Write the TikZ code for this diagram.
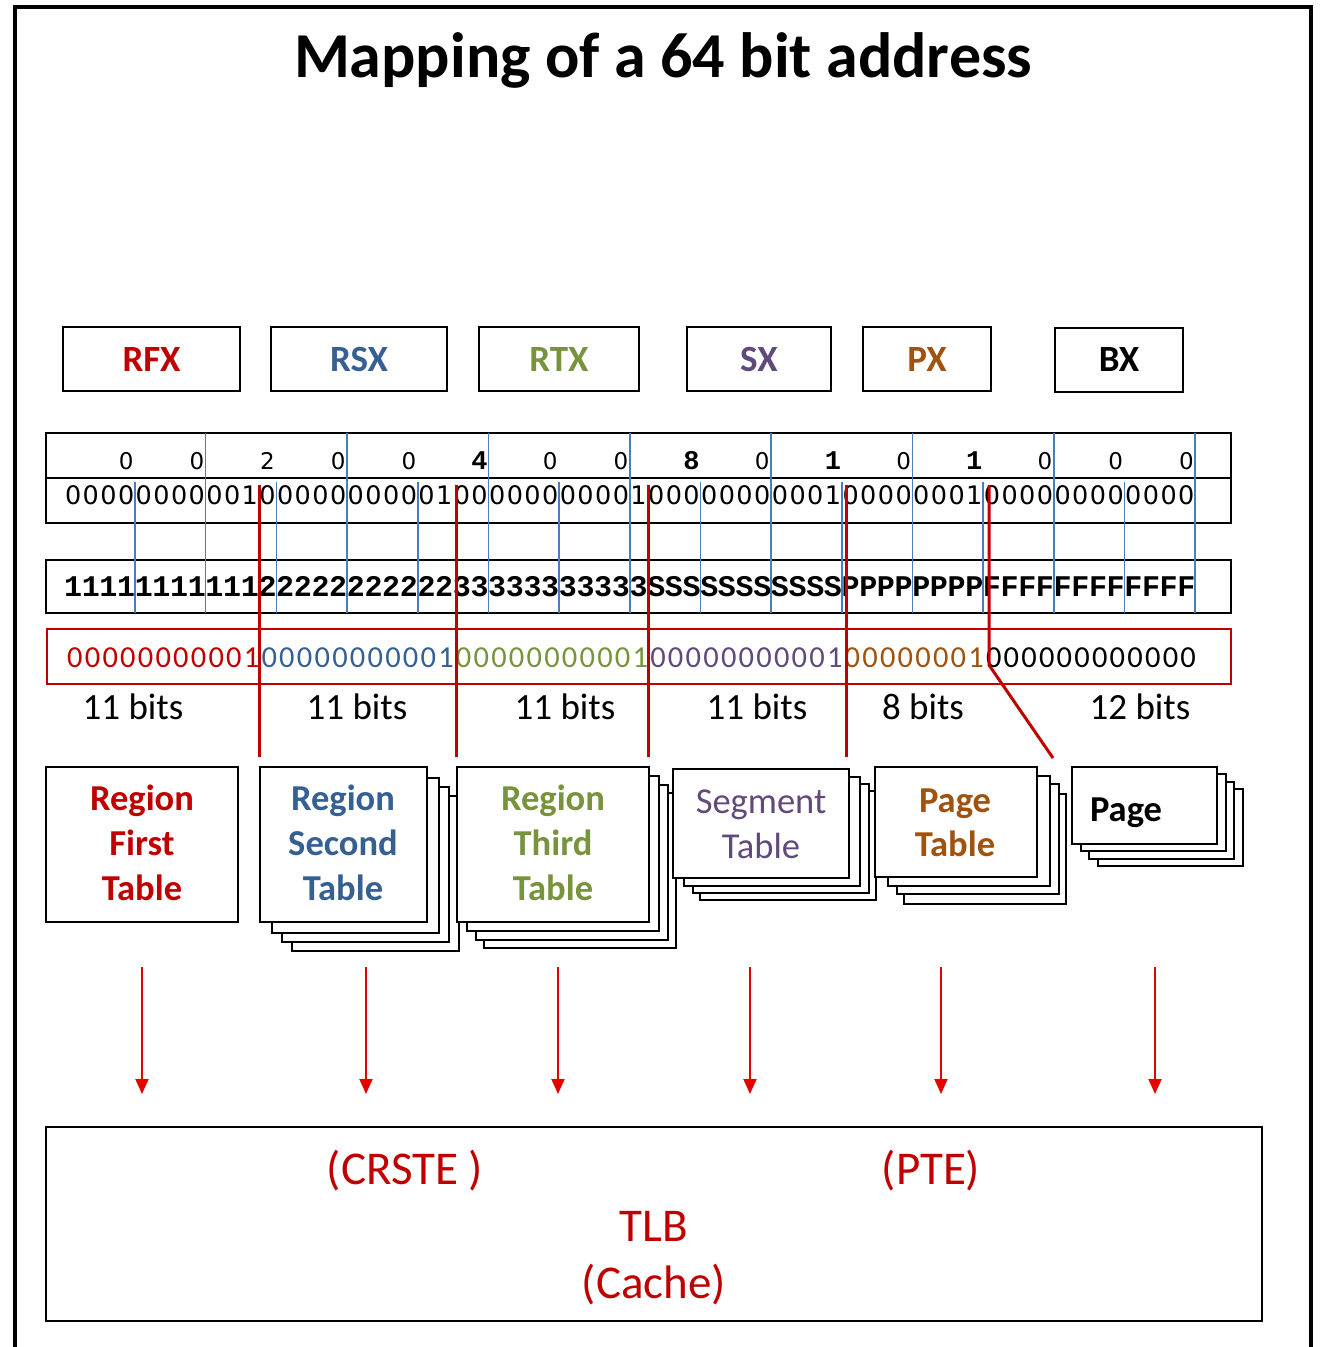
\documentclass[tikz,border=0pt]{standalone}
\usepackage{fontspec}
\setmainfont{Carlito}
\newfontfamily\sansv{DejaVu Sans}
\newfontfamily\monob{Liberation Mono}
\usetikzlibrary{arrows.meta}

\definecolor{rfxc}{HTML}{C00000}
\definecolor{rsxc}{HTML}{376092}
\definecolor{rtxc}{HTML}{77933C}
\definecolor{sxc}{HTML}{604A7B}
\definecolor{pxc}{HTML}{A0520F}
\definecolor{bxc}{HTML}{000000}
\definecolor{gridblue}{HTML}{4A7EBB}
\definecolor{linkred}{HTML}{C00000}
\definecolor{arrowred}{HTML}{E60000}
\colorlet{segc0}{rfxc}
\colorlet{segc1}{rsxc}
\colorlet{segc2}{rtxc}
\colorlet{segc3}{sxc}
\colorlet{segc4}{pxc}
\colorlet{segc5}{bxc}

\begin{document}
\begin{tikzpicture}[x=1pt,y=-1pt,
  fieldbox/.style={draw, line width=2pt, inner sep=0pt,
    font=\fontsize{37}{44}\selectfont\bfseries},
  rowbox/.style={draw, line width=2pt, inner sep=0pt},
  maskbox/.style={draw=linkred, line width=1.5pt, inner sep=0pt},
  binchar/.style={anchor=base, inner sep=0pt, font=\sansv\fontsize{25.5}{30}\selectfont},
  hexchar/.style={anchor=base, inner sep=0pt, font=\sansv\fontsize{23}{27}\selectfont},
  hexcharb/.style={anchor=base, inner sep=0pt, font=\monob\bfseries\fontsize{27}{31}\selectfont},
  fieldchar/.style={anchor=base, inner sep=0pt, font=\monob\bfseries\fontsize{30}{34}\selectfont},
  maskchar/.style={anchor=base, inner sep=0pt, font=\fontsize{30.5}{35}\selectfont},
  bitslabel/.style={anchor=base, inner sep=0pt, font=\fontsize{37}{44}\selectfont},
  tablelabel/.style={anchor=base, inner sep=0pt, font=\fontsize{36.5}{44}\selectfont\bfseries},
  tablelabelr/.style={anchor=base, inner sep=0pt, font=\fontsize{36.5}{44}\selectfont},
  tlblabel/.style={anchor=base, inner sep=0pt, text=rfxc, font=\fontsize{47}{56}\selectfont},
  frontsheet/.style={draw, line width=2pt, fill=white, inner sep=0pt},
  backsheet/.style={draw, line width=1.2pt, fill=white},
  nibble/.style={draw=gridblue, line width=1.6pt},
  link/.style={draw=linkred, line width=3pt},
  fetch/.style={draw=arrowred, line width=2pt, -{Triangle[width=13pt,length=15pt]}}
]
\useasboundingbox (0,0) rectangle (1321,1347);

% outer frame (open at the bottom edge)
\draw[line width=4pt] (15,1352) -- (15,7) -- (1311,7) -- (1311,1352);

% title
\node[anchor=base, inner sep=0pt, font=\fontsize{64}{76}\selectfont\bfseries] (title) at (663,77) {Mapping of a 64 bit address};

% field names
\node[fieldbox, text=rfxc, minimum width=177, minimum height=64] (rfx) at (151.5,359) {RFX};
\node[fieldbox, text=rsxc, minimum width=176, minimum height=64] (rsx) at (359,359) {RSX};
\node[fieldbox, text=rtxc, minimum width=160, minimum height=64] (rtx) at (559,359) {RTX};
\node[fieldbox, text=sxc,  minimum width=144, minimum height=64] (sx)  at (759,359) {SX};
\node[fieldbox, text=pxc,  minimum width=128, minimum height=64] (px)  at (927,359) {PX};
\node[fieldbox, text=bxc,  minimum width=128, minimum height=64] (bx)  at (1119,359.5) {BX};

% address boxes
\node[rowbox, minimum width=1185, minimum height=90] (addr) at (638.5,478) {};
\coordinate (addrdiv) at (0,478);
\draw[line width=2pt] (addr.west |- addrdiv) -- (addr.east |- addrdiv);
\node[rowbox, minimum width=1185, minimum height=53] (fields) at (638.5,586.5) {};
\node[maskbox, minimum width=1184, minimum height=55] (mask) at (639,656.5) {};

% hex digits, one above the last bit of every nibble
\foreach \h [count=\j from 0] in {0,0,2,0,0,4,0,0,8,0,1,0,1,0,0,0}{
  \pgfmathsetmacro\hx{64.3+17.67*(4*\j+3.5)}
  \ifnum\h=0 \def\hstyle{hexchar}\else\ifnum\h=2 \def\hstyle{hexchar}\else\def\hstyle{hexcharb}\fi\fi
  \node[\hstyle] (hex-\j) at (\hx,469.5) {\h};
}

% bit strings
\foreach \i in {0,...,63}{
  \pgfmathsetmacro\cx{64.3+17.67*(\i+0.5)}
  \pgfmathtruncatemacro\bit{(\i==10)||(\i==21)||(\i==32)||(\i==43)||(\i==51)}
  \ifnum\i<11 \def\sg{0}\def\ch{1}\else
  \ifnum\i<22 \def\sg{1}\def\ch{2}\else
  \ifnum\i<33 \def\sg{2}\def\ch{3}\else
  \ifnum\i<44 \def\sg{3}\def\ch{S}\else
  \ifnum\i<52 \def\sg{4}\def\ch{P}\else
  \def\sg{5}\def\ch{F}\fi\fi\fi\fi\fi
  \node[binchar] (bin-\i) at (\cx,504.5) {\bit};
  \node[fieldchar] (fld-\i) at (\cx,596) {\ch};
  \node[maskchar, text=segc\sg] (msk-\i) at (\cx+1.8,667) {\bit};
}

% nibble and byte boundaries
\foreach \k in {4,12,...,60}{
  \pgfmathsetmacro\gx{64.3+17.67*\k}
  \draw[nibble] (\gx,482) -- (\gx,613);
}
\foreach \k in {8,16,...,64}{
  \pgfmathsetmacro\gx{64.3+17.67*\k}
  \draw[nibble] (\gx,433) -- (\gx,613);
}

% widths of the fields
\node[bitslabel] (w1) at (133,719) {11 bits};
\node[bitslabel] (w2) at (357,719) {11 bits};
\node[bitslabel] (w3) at (565,719) {11 bits};
\node[bitslabel] (w4) at (757,719) {11 bits};
\node[bitslabel] (w5) at (923,719) {8 bits};
\node[bitslabel] (w6) at (1140,719) {12 bits};

% tables
\node[frontsheet, minimum width=192, minimum height=155] (rft) at (142,844.5) {};
\node[tablelabel, text=rfxc] (rft-1) at (142,810) {Region};
\node[tablelabel, text=rfxc] (rft-2) at (142,855) {First};
\node[tablelabel, text=rfxc] (rft-3) at (142,900) {Table};

\foreach \dx/\dy in {32/29,22/20,12/11}
  \draw[backsheet] (260+\dx,767+\dy) rectangle (427+\dx,922+\dy);
\node[frontsheet, minimum width=167, minimum height=155] (rst) at (343.5,844.5) {};
\node[tablelabel, text=rsxc] (rst-1) at (343,810) {Region};
\node[tablelabel, text=rsxc] (rst-2) at (343,855) {Second};
\node[tablelabel, text=rsxc] (rst-3) at (343,900) {Table};

\foreach \dx/\dy in {27/26,19/18,10/9}
  \draw[backsheet] (457+\dx,767+\dy) rectangle (649+\dx,922+\dy);
\node[frontsheet, minimum width=192, minimum height=155] (rtt) at (553,844.5) {};
\node[tablelabel, text=rtxc] (rtt-1) at (553,810) {Region};
\node[tablelabel, text=rtxc] (rtt-2) at (553,855) {Third};
\node[tablelabel, text=rtxc] (rtt-3) at (553,900) {Table};

\foreach \dx/\dy in {27/22,20/15,11/8}
  \draw[backsheet] (673+\dx,769+\dy) rectangle (849+\dx,878+\dy);
\node[frontsheet, minimum width=176, minimum height=109] (sgt) at (761,823.5) {};
\node[tablelabelr, text=sxc] (sgt-1) at (761,813) {Segment};
\node[tablelabelr, text=sxc] (sgt-2) at (761,858) {Table};

\foreach \dx/\dy in {29/27,22/17,13/9}
  \draw[backsheet] (875+\dx,767+\dy) rectangle (1037+\dx,877+\dy);
\node[frontsheet, minimum width=162, minimum height=110] (pgt) at (956,822) {};
\node[tablelabel, text=pxc] (pgt-1) at (955,812) {Page};
\node[tablelabel, text=pxc] (pgt-2) at (955,856) {Table};

\foreach \dx/\dy in {26/22,17/15,9/7}
  \draw[backsheet] (1072+\dx,767+\dy) rectangle (1217+\dx,844+\dy);
\node[frontsheet, minimum width=145, minimum height=77] (pg) at (1144.5,805.5) {};
\node[tablelabel, text=bxc] (pg-1) at (1126,821) {Page};

% links from the bit string to the tables
\coordinate (l1a) at (259,485);  \coordinate (l1b) at (259,757);
\coordinate (l2a) at (456,485);  \coordinate (l2b) at (456,757);
\coordinate (l3a) at (648,485);  \coordinate (l3b) at (648,757);
\coordinate (l4a) at (846,485);  \coordinate (l4b) at (846,757);
\coordinate (l5a) at (989,485);  \coordinate (l5k) at (989,665);
\coordinate (l5b) at (1053,758);
\draw[link] (l1a) -- (l1b);
\draw[link] (l2a) -- (l2b);
\draw[link] (l3a) -- (l3b);
\draw[link] (l4a) -- (l4b);
\draw[link] (l5a) -- (l5k) -- (l5b);

% TLB
\node[draw, line width=2pt, minimum width=1216, minimum height=194, inner sep=0pt] (tlb) at (654,1224) {};
\node[tlblabel] (crste) at (405,1184) {(CRSTE )};
\node[tlblabel] (pte) at (931,1184) {(PTE)};
\node[tlblabel] (tlbname) at (654,1241) {TLB};
\node[tlblabel] (cache) at (654,1298) {(Cache)};

% lookups into the TLB
\foreach \n/\ax in {1/142,2/366,3/558,4/750,5/941,6/1155}{
  \coordinate (f\n a) at (\ax,967);
  \coordinate (f\n b) at (\ax,1094);
  \draw[fetch] (f\n a) -- (f\n b);
}
\end{tikzpicture}
\end{document}
